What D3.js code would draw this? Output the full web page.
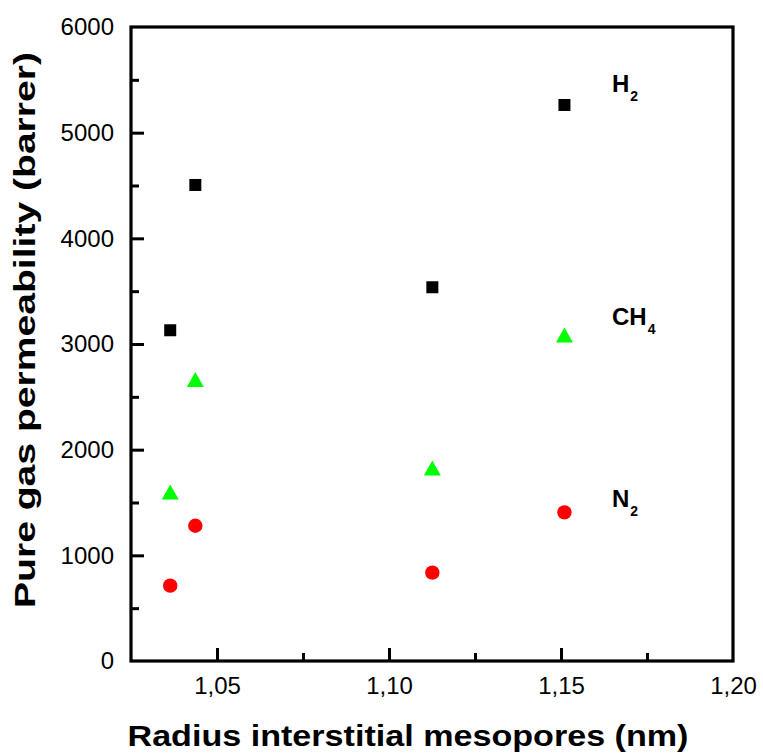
<!DOCTYPE html>
<html>
<head>
<meta charset="utf-8">
<script src="https://cdn.jsdelivr.net/npm/d3@7/dist/d3.min.js"></script>
<style>
  html, body { margin: 0; padding: 0; background: #fff; }
  svg { display: block; }
  text { font-family: "Liberation Sans", Arial, sans-serif; }
</style>
</head>
<body>
<svg id="chart" width="763" height="756"></svg>
<script>
// Mesopore radius (nm) for the four samples
const radius = [1.0364, 1.0437, 1.1126, 1.1510];
// Pure gas permeability (barrer)
const h2  = [3130, 4505, 3537, 5262];
const ch4 = [1599, 2664, 1826, 3085];
const n2  = [713, 1280, 836, 1407];

const xTicks = [1.05, 1.10, 1.15, 1.20];
const xMinor = [1.075, 1.125, 1.175];
const yTicks = [0, 1000, 2000, 3000, 4000, 5000, 6000];
const yMinor = [500, 1500, 2500, 3500, 4500, 5500];

const svg = d3.select("#chart");
const L = 131, R = 733, T = 27, B = 661;

const x = d3.scaleLinear().domain([1.025, 1.20]).range([L, R]);
const y = d3.scaleLinear().domain([0, 6000]).range([B, T]);

const fmt = v => d3.format(".2f")(v).replace(".", ",");
const FONT = "Liberation Sans, Arial, sans-serif";

// Bottom axis with inward ticks
const xAxis = svg.append("g").attr("transform", `translate(0,${B})`)
  .call(d3.axisBottom(x).tickValues(xTicks).tickSize(-13).tickFormat(fmt).tickPadding(16));
xAxis.select(".domain").remove();
xAxis.selectAll(".tick line").attr("stroke", "#000").attr("stroke-width", 3);
xAxis.selectAll(".tick text").attr("font-size", 24).attr("fill", "#000").attr("font-family", FONT);
xAxis.selectAll(".tick").filter(d => d === 1.20).select("line").remove();

const xMin = svg.append("g").attr("transform", `translate(0,${B})`)
  .call(d3.axisBottom(x).tickValues(xMinor).tickSize(-8).tickFormat(""));
xMin.select(".domain").remove();
xMin.selectAll(".tick line").attr("stroke", "#000").attr("stroke-width", 3);

// Left axis with inward ticks
const yAxis = svg.append("g").attr("transform", `translate(${L},0)`)
  .call(d3.axisLeft(y).tickValues(yTicks).tickSize(-13).tickFormat(d3.format("d")).tickPadding(17));
yAxis.select(".domain").remove();
yAxis.selectAll(".tick line").attr("stroke", "#000").attr("stroke-width", 3);
yAxis.selectAll(".tick text").attr("font-size", 24).attr("fill", "#000").attr("font-family", FONT);
yAxis.selectAll(".tick").filter(d => d === 0 || d === 6000).select("line").remove();

const yMin = svg.append("g").attr("transform", `translate(${L},0)`)
  .call(d3.axisLeft(y).tickValues(yMinor).tickSize(-8).tickFormat(""));
yMin.select(".domain").remove();
yMin.selectAll(".tick line").attr("stroke", "#000").attr("stroke-width", 3);

// Plot frame
svg.append("rect")
  .attr("x", L).attr("y", T).attr("width", R - L).attr("height", B - T)
  .attr("fill", "none").attr("stroke", "#000").attr("stroke-width", 3.2);

// H2: black squares
const sq = 12;
svg.append("g").selectAll("rect").data(radius.map((r, i) => [r, h2[i]])).join("rect")
  .attr("x", d => x(d[0]) - sq / 2).attr("y", d => y(d[1]) - sq / 2)
  .attr("width", sq).attr("height", sq).attr("fill", "#000");

// CH4: green up-triangles, centred on their bounding box
const tw = 17, th = 15;
svg.append("g").selectAll("path").data(radius.map((r, i) => [r, ch4[i]])).join("path")
  .attr("d", d => {
    const cx = x(d[0]), cy = y(d[1]);
    return `M${cx},${cy - th / 2}L${cx + tw / 2},${cy + th / 2}L${cx - tw / 2},${cy + th / 2}Z`;
  })
  .attr("fill", "#00ff00");

// N2: red circles
svg.append("g").selectAll("circle").data(radius.map((r, i) => [r, n2[i]])).join("circle")
  .attr("cx", d => x(d[0])).attr("cy", d => y(d[1])).attr("r", 7.2).attr("fill", "#ff0000");

// Series labels
const labels = [
  { main: "H", sub: "2", x: 612, y: 92 },
  { main: "CH", sub: "4", x: 612, y: 325 },
  { main: "N", sub: "2", x: 612, y: 507 }
];
labels.forEach(l => {
  const t = svg.append("text").attr("x", l.x).attr("y", l.y)
    .attr("font-size", 24).attr("font-weight", "bold").attr("fill", "#000");
  t.append("tspan").text(l.main);
  t.append("tspan").text(l.sub).attr("font-size", 14).attr("dy", 9).attr("dx", 1);
});

// Axis titles
svg.append("text").attr("x", 408).attr("y", 746).attr("text-anchor", "middle")
  .attr("font-size", 29).attr("font-weight", "bold").attr("fill", "#000")
  .attr("textLength", 561).attr("lengthAdjust", "spacingAndGlyphs")
  .text("Radius interstitial mesopores (nm)");

svg.append("text").attr("transform", "translate(35,330) rotate(-90)").attr("text-anchor", "middle")
  .attr("font-size", 29).attr("font-weight", "bold").attr("fill", "#000")
  .attr("textLength", 556).attr("lengthAdjust", "spacingAndGlyphs")
  .text("Pure gas permeability (barrer)");
</script>
</body>
</html>
